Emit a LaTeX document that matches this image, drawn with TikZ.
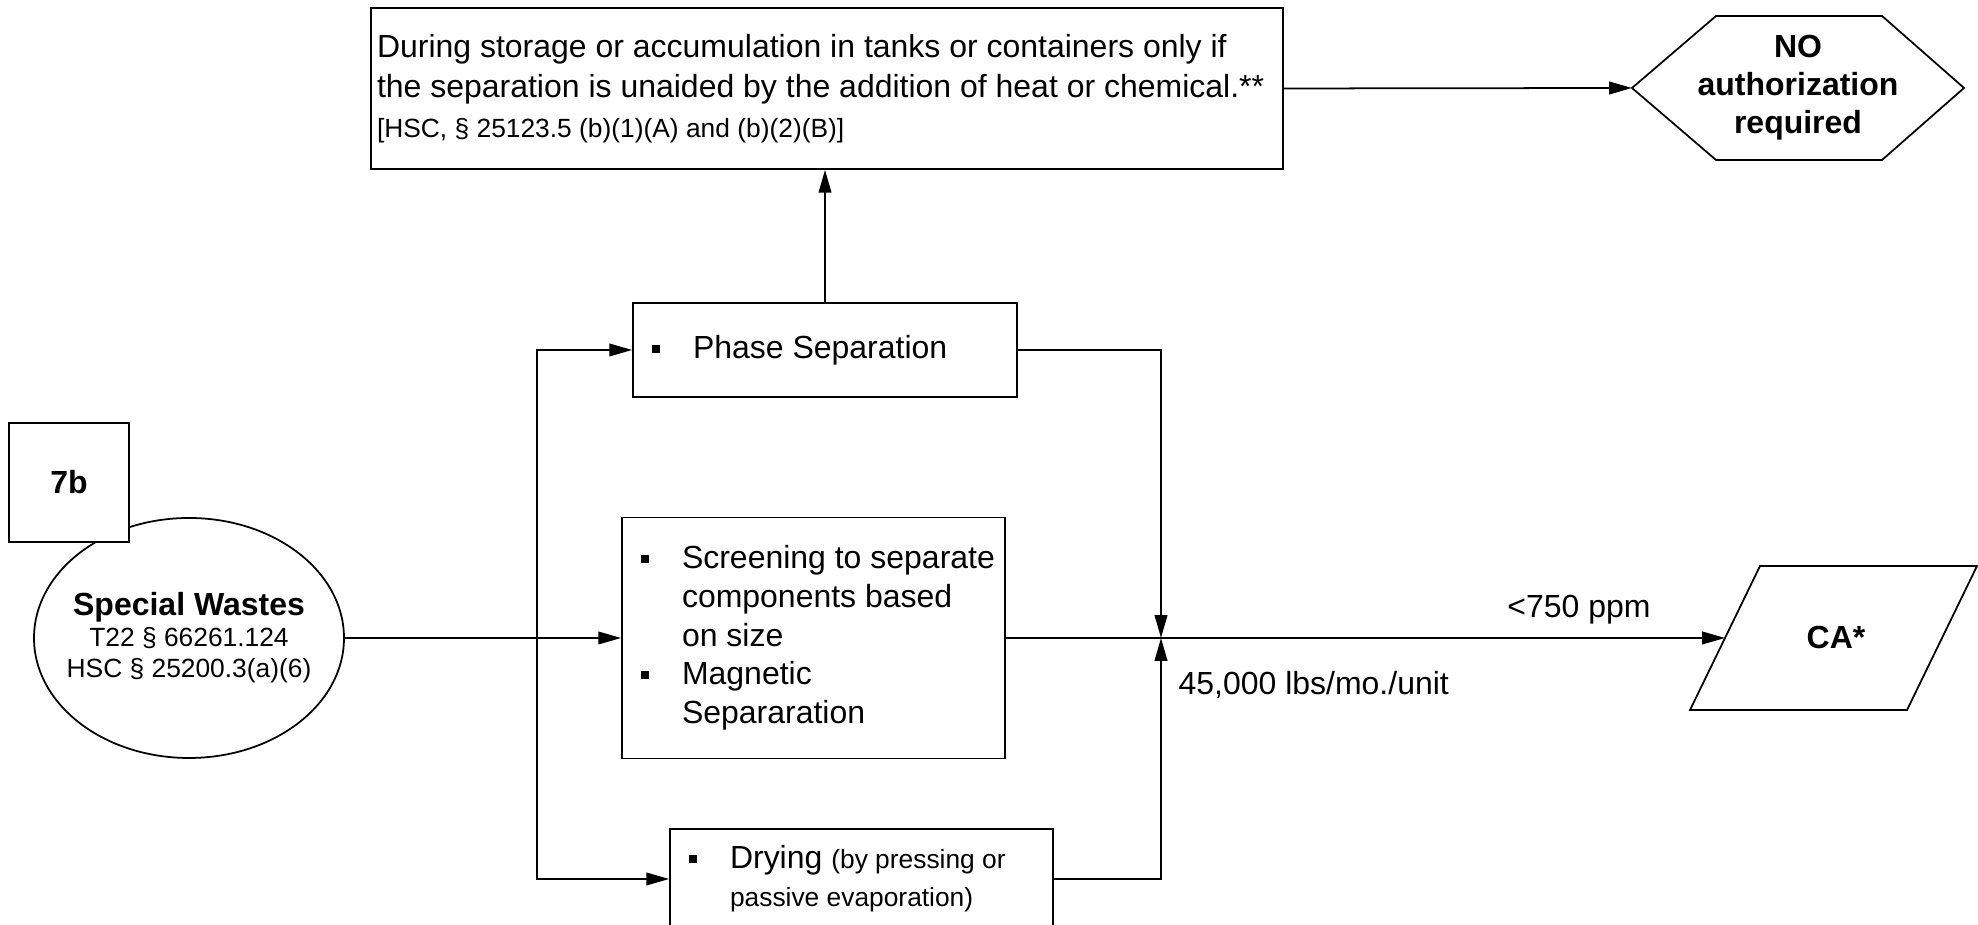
\documentclass[tikz,border=0pt]{standalone}
\usepackage{fontspec}
\setmainfont{Liberation Sans}
\usepackage{tikz}
\usetikzlibrary{arrows.meta,shapes.geometric}

\newcommand{\smalltxt}{\fontsize{7.5}{8.8}\selectfont}
\newcommand{\sqb}{\hspace*{0.13cm}\makebox[0.41cm][l]{\rule[1.6pt]{2.3pt}{2.3pt}}}
\newcommand{\bind}{\hspace*{0.54cm}}

\begin{document}
\begin{tikzpicture}[
  font=\fontsize{9.1}{10.8}\selectfont,
  line width=0.5pt,
  arr/.style={-{Triangle[length=6.5pt,width=3.6pt]}},
  box/.style={draw, rectangle, inner xsep=0.06cm, inner ysep=0pt, align=flush left},
  bold/.style={font=\fontsize{9.1}{10.8}\selectfont\bfseries}
]
\useasboundingbox (0,0) rectangle (19.78,9.25);

\node[box, minimum height=1.61cm, text width=9.0cm] (topbox) at (8.27,8.365)
  {During storage or accumulation in tanks or containers only if\\[0.6pt]
   the separation is unaided by the addition of heat or chemical.**\\[0.6pt]
   {\smalltxt [HSC, § 25123.5 (b)(1)(A) and (b)(2)(B)]}};

\draw (16.32,8.37) -- (17.16,9.09) -- (18.82,9.09) -- (19.64,8.37) -- (18.82,7.65) -- (17.16,7.65) -- cycle;
\node[bold, align=center] (noauth) at (17.98,8.37) {NO\\authorization\\required};
\coordinate (noauthw) at (16.32,8.37);

\node[box, minimum height=0.94cm, text width=3.72cm] (phase) at (8.25,5.75) {\sqb Phase Separation};

\node[box, minimum height=2.41cm, text width=3.71cm, font=\fontsize{9.1}{11}\selectfont] (screen) at (8.135,2.87)
  {\sqb Screening to separate\\
   \bind components based\\
   \bind on size\\
   \sqb Magnetic\\
   \bind Separaration};

\node[box, minimum height=1.0cm, text width=3.71cm] (drying) at (8.615,0.46)
  {\sqb Drying {\smalltxt (by pressing or}\\
   \bind{\smalltxt passive evaporation)}};

\node[draw, ellipse, minimum width=3.1cm, minimum height=2.4cm, inner xsep=-0.135cm, inner ysep=0pt, align=center, font=\smalltxt] (waste) at (1.89,2.87)
  {{\fontsize{9.1}{10.8}\selectfont\bfseries Special Wastes}\\T22 § 66261.124\\HSC § 25200.3(a)(6)};

\node[draw, fill=white, minimum width=1.2cm, minimum height=1.19cm, bold] (sec) at (0.69,4.425) {7b};

\draw (16.90,2.15) -- (17.60,3.59) -- (19.77,3.59) -- (19.07,2.15) -- cycle;
\node[bold] (ca) at (18.36,2.87) {CA*};
\coordinate (caw) at (17.25,2.87);

\coordinate (split) at (5.37,2.87);
\coordinate (jn) at (11.61,2.87);

\draw[arr] (waste.east) -- (screen.west);
\draw[arr] (split) |- (phase.west);
\draw[arr] (split) |- (drying.west);
\draw[arr] (phase.north) -- (phase.north |- topbox.south);
\draw[arr] (topbox.east) -- (noauthw);
\draw[arr] (screen.east) -- (caw);
\draw[arr] (phase.east) -| (jn);
\draw[arr] (drying.east) -| (jn);

\node (ppm) at (15.79,3.15) {<750 ppm};
\node[anchor=west] (rate) at (11.66,2.40) {45,000 lbs/mo./unit};

\end{tikzpicture}
\end{document}
